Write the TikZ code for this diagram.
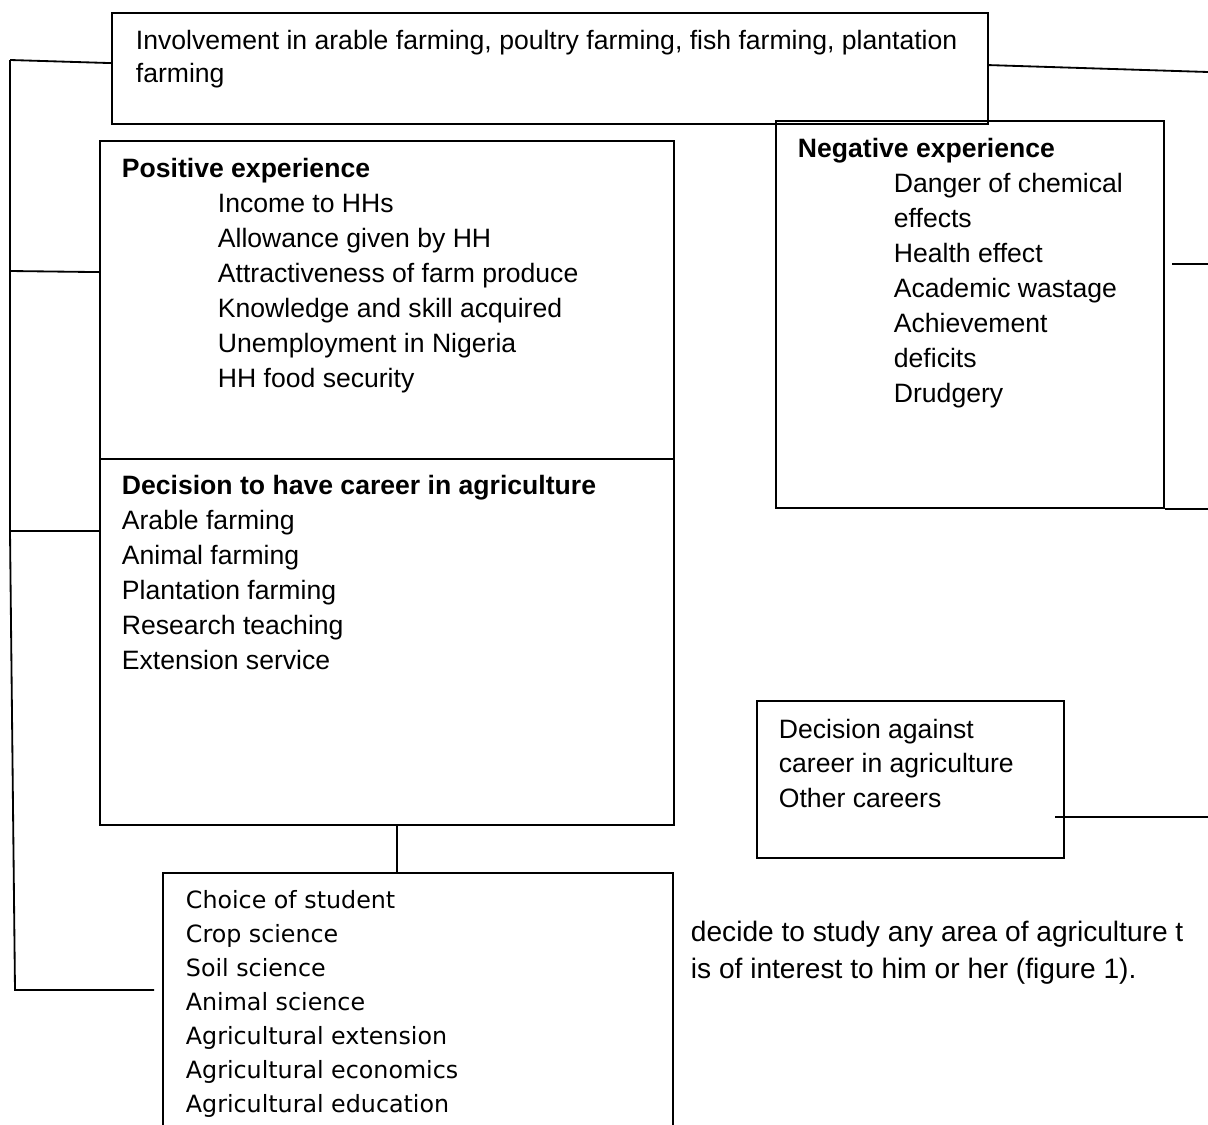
\documentclass[tikz,border=0pt]{standalone}
\usepackage{fontspec}
\setmainfont{Liberation Sans}
\newfontfamily\choicefont{DejaVu Sans}
\usetikzlibrary{positioning,fit,calc}

\begin{document}
\begin{tikzpicture}[x=0.025cm,y=-0.025cm,line width=1.3pt,
	box/.style={draw,inner sep=0pt,fit={#1}},
	txt/.style={anchor=base west,inner sep=0pt,font=\fontsize{18.9}{22}\selectfont},
	head/.style={txt,font=\fontsize{18.9}{22}\selectfont\bfseries},
	ctxt/.style={anchor=base west,inner sep=0pt,font=\choicefont\fontsize{16.9}{20}\selectfont},
	btxt/.style={anchor=base west,inner sep=0pt,font=\fontsize{20}{24}\selectfont}]
		\useasboundingbox (0,0) rectangle (1208,1124);
		% boxes
		\node [box={(112,13) (988,124)}] (inv) {};
		\node [box={(100,141) (674,459)}] (pos) {};
		\node [box={(100,459) (674,825)}] (dec) {};
		\node [box={(776,121) (1164,508)}] (neg) {};
		\node [box={(757,701) (1064,858)}] (against) {};
		\node [box={(163,873) (673,1140)}] (choice) {};
		% texts
		\node [txt] (inv1) at (135,49) {Involvement in arable farming, poultry farming, fish farming, plantation};
		\node [txt] (inv2) at (135,82) {farming};
		\node [head] (posH) at (121,177) {Positive experience};
		\foreach \t [count=\i] in {Income to HHs,Allowance given by HH,Attractiveness of farm produce,Knowledge and skill acquired,Unemployment in Nigeria,HH food security}
			\node [txt] (pos\i) at (217,177+35*\i) {\t};
		\node [head] (negH) at (797,157) {Negative experience};
		\foreach \t [count=\i] in {Danger of chemical,effects,Health effect,Academic wastage,Achievement,deficits,Drudgery}
			\node [txt] (neg\i) at (893,157+35*\i) {\t};
		\node [head] (decH) at (121,494) {Decision to have career in agriculture};
		\foreach \t [count=\i] in {Arable farming,Animal farming,Plantation farming,Research teaching,Extension service}
			\node [txt] (dec\i) at (121,494+35*\i) {\t};
		\foreach \t [count=\i] in {Decision against,career in agriculture,Other careers}
			\node [txt] (against\i) at (778,738+34.5*\i-34.5) {\t};
		\foreach \t [count=\i] in {Choice of student,Crop science,Soil science,Animal science,Agricultural extension,Agricultural economics,Agricultural education}
			\node [ctxt] (choice\i) at (185,908+34*\i-34) {\t};
		\node [btxt] (body1) at (690,941) {decide to study any area of agriculture t};
		\node [btxt] (body2) at (690,978) {is of interest to him or her (figure 1).};
		% connectors
		\coordinate (l0) at (10,60);
		\coordinate (l1) at (10,271);
		\coordinate (l2) at (10,531);
		\coordinate (l3) at (15,990);
		\coordinate (l4) at (154,990);
		\coordinate (r0) at (1208,72);
		\coordinate (r1) at (1172,264);
		\coordinate (r2) at (1208,264);
		\coordinate (r3) at (1055,817);
		\coordinate (r4) at (1208,817);
		\draw (l0) -- (l2) -- (l3) -- (l4);
		\draw (l0) -- ($(inv.north west)+(0,51)$);
		\draw (l1) -- ($(pos.north west)+(0,132)$);
		\draw (l2) -- (l2 -| dec.west);
		\draw ($(inv.north east)+(0,53)$) -- (r0);
		\draw (r1) -- (r2);
		\draw (neg.south east) -- (neg.south east -| r2);
		\draw (r3) -- (r4);
		\draw ($(dec.south west)+(298,0)$) -- ($(choice.north west)+(235,0)$);
	\end{tikzpicture}
\end{document}
